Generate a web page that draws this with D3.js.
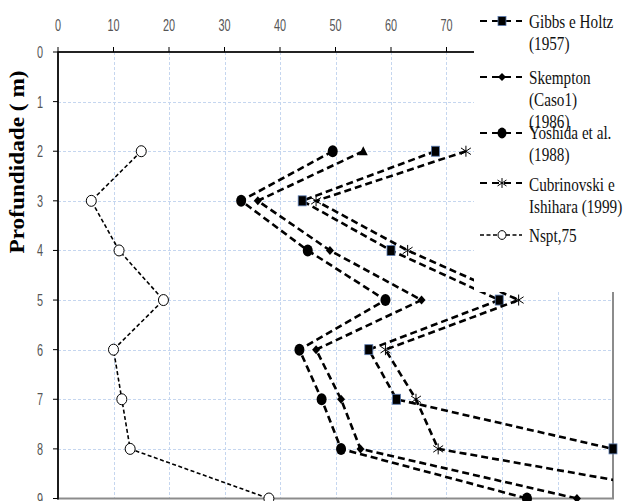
<!DOCTYPE html>
<html><head><meta charset="utf-8">
<script src="https://cdn.jsdelivr.net/npm/d3@7"></script>
<style>body{margin:0;background:#fff}svg{display:block}</style>
</head><body>
<script>
// Depths (m) and the values of each method at those depths
const depths      = [2, 3, 4, 5, 6, 7, 8, 9];
const gibbsHoltz  = [68, 44, 60, 79.5, 56, 61, 100, 113];
const skempton    = [55, 36, 49, 65.5, 46.5, 51, 54.5, 93.5];
const yoshida     = [49.5, 33, 45, 59, 43.5, 47.5, 51, 84.5];
const cubrinovski = [73.5, 46.5, 63, 83, 59, 64.5, 68.5, 119];
const nspt75      = [15, 6, 11, 19, 10, 11.5, 13, 38];

const xTicks = [0, 10, 20, 30, 40, 50, 60, 70, 80, 90, 100];
const yTicks = [0, 1, 2, 3, 4, 5, 6, 7, 8, 9];
const yTitle = "Profundidade ( m)";

const legendLabels = [
  ["Gibbs e Holtz", "(1957)"],
  ["Skempton", "(Caso1)", "(1986)"],
  ["Yoshida et al.", "(1988)"],
  ["Cubrinovski e", "Ishihara (1999)"],
  ["Nspt,75"]
];

const W = 625, H = 501;
const plot = {left: 58, right: 613, top: 52, bottom: 498.5};
const legendBox = {x: 474, height: 292};

const svg = d3.select("body").append("svg").attr("width", W).attr("height", H);

const x = d3.scaleLinear().domain([0, 100]).range([plot.left, plot.right]);
const y = d3.scaleLinear().domain([0, 9]).range([plot.top, plot.bottom]);

// grid
const grid = svg.append("g").attr("stroke", "#c5d6ef").attr("stroke-width", 1)
  .attr("stroke-dasharray", "3,2");
grid.selectAll("line.v").data(xTicks.filter(d => d > 0 && d < 100)).join("line")
  .attr("x1", d => Math.round(x(d)) + 0.5).attr("x2", d => Math.round(x(d)) + 0.5)
  .attr("y1", plot.top).attr("y2", plot.bottom);
grid.selectAll("line.h").data(yTicks.filter(d => d > 0 && d < 9)).join("line")
  .attr("y1", d => Math.round(y(d)) + 0.5).attr("y2", d => Math.round(y(d)) + 0.5)
  .attr("x1", plot.left).attr("x2", plot.right);

// plot frame
svg.append("rect").attr("x", plot.left).attr("y", plot.top)
  .attr("width", plot.right - plot.left).attr("height", plot.bottom - plot.top)
  .attr("fill", "none").attr("stroke", "#8c8c8c").attr("stroke-width", 2);

svg.append("clipPath").attr("id", "clip").append("rect")
  .attr("x", plot.left).attr("y", plot.top)
  .attr("width", plot.right - plot.left).attr("height", plot.bottom - plot.top);

// marker painters
function square(g, cx, cy, s) {
  g.append("rect").attr("x", cx - 4).attr("y", cy - 5 * s).attr("width", 8).attr("height", 10 * s)
    .attr("fill", "#000").attr("stroke", "#5b7bb0").attr("stroke-width", 0.8);
}
function diamond(g, cx, cy, s) {
  g.append("path").attr("d", `M${cx},${cy - 4.5 * s}L${cx + 4},${cy}L${cx},${cy + 4.5 * s}L${cx - 4},${cy}Z`)
    .attr("fill", "#000");
}
function triangle(g, cx, cy) {
  g.append("path").attr("d", `M${cx},${cy - 5}L${cx + 4.5},${cy + 4}L${cx - 4.5},${cy + 4}Z`)
    .attr("fill", "#000");
}
function dot(g, cx, cy, s) {
  g.append("ellipse").attr("cx", cx).attr("cy", cy).attr("rx", 5 * s).attr("ry", 6 * s).attr("fill", "#000");
}
function star(g, cx, cy, s) {
  const r = 5.5 * s;
  g.append("path").attr("d",
    `M${cx},${cy - r}L${cx},${cy + r}M${cx - r * 0.9},${cy - r * 0.6}L${cx + r * 0.9},${cy + r * 0.6}M${cx - r * 0.9},${cy + r * 0.6}L${cx + r * 0.9},${cy - r * 0.6}`)
    .attr("stroke", "#000").attr("stroke-width", 1).attr("fill", "none");
}
function ring(g, cx, cy, s) {
  g.append("ellipse").attr("cx", cx).attr("cy", cy).attr("rx", 5 * s).attr("ry", 5.5 * s)
    .attr("fill", "#fff").attr("stroke", "#000").attr("stroke-width", 1);
}

const series = [
  {vals: gibbsHoltz, mark: square, width: 2.6, dash: "7,4"},
  {vals: skempton, mark: diamond, width: 2.6, dash: "7,4"},
  {vals: yoshida, mark: dot, width: 2.6, dash: "7,4"},
  {vals: cubrinovski, mark: star, width: 2.6, dash: "7,4"},
  {vals: nspt75, mark: ring, width: 1.6, dash: "4,2.5"}
];

const line = d3.line().x(d => x(d[0])).y(d => y(d[1]));

series.forEach((s, si) => {
  const pts = s.vals.map((v, i) => [v, depths[i]]);
  svg.append("path").datum(pts).attr("clip-path", "url(#clip)")
    .attr("d", line).attr("fill", "none").attr("stroke", "#000")
    .attr("stroke-width", s.width).attr("stroke-dasharray", s.dash);
  const mg = svg.append("g");
  pts.forEach(([v, dpt], i) => {
    if (v > 100) return;
    // the 2 m point of the Skempton series carries a triangle marker
    if (si === 1 && dpt === 2) triangle(mg, x(v), y(dpt));
    else s.mark(mg, x(v), y(dpt), 1);
  });
});

// axes
svg.append("line").attr("x1", plot.left).attr("x2", plot.right)
  .attr("y1", plot.top).attr("y2", plot.top).attr("stroke", "#000").attr("stroke-width", 1.6);
svg.append("line").attr("x1", plot.left).attr("x2", plot.left)
  .attr("y1", plot.top).attr("y2", plot.bottom + 1).attr("stroke", "#000").attr("stroke-width", 1.6);

svg.append("g").selectAll("line").data(xTicks).join("line")
  .attr("x1", d => x(d)).attr("x2", d => x(d)).attr("y1", plot.top - 5).attr("y2", plot.top)
  .attr("stroke", "#000").attr("stroke-width", 1);
svg.append("g").selectAll("line").data(yTicks).join("line")
  .attr("y1", d => y(d)).attr("y2", d => y(d)).attr("x1", plot.left - 5).attr("x2", plot.left)
  .attr("stroke", "#000").attr("stroke-width", 1);

// top labels only where the legend panel leaves room
svg.append("g").selectAll("text").data(xTicks.filter(d => x(d) < legendBox.x)).join("text")
  .attr("transform", d => `translate(${x(d)},31) scale(0.68,1)`)
  .attr("text-anchor", "middle").attr("font-family", "Liberation Sans, Arial, sans-serif")
  .attr("font-size", 16).attr("fill", "#555").text(d => d);
svg.append("g").selectAll("text").data(yTicks).join("text")
  .attr("transform", d => `translate(40,${y(d) + 6}) scale(0.68,1)`)
  .attr("text-anchor", "middle").attr("font-family", "Liberation Sans, Arial, sans-serif")
  .attr("font-size", 16).attr("fill", "#555").text(d => d);

svg.append("text").attr("transform", "translate(24,162) rotate(-90)")
  .attr("text-anchor", "middle").attr("font-family", "Liberation Serif, Times New Roman, serif")
  .attr("font-weight", "bold").attr("font-size", 20).attr("fill", "#000")
  .attr("textLength", 183).attr("lengthAdjust", "spacingAndGlyphs").text(yTitle);

// legend
svg.append("rect").attr("x", legendBox.x).attr("y", 0).attr("width", W - legendBox.x)
  .attr("height", legendBox.height).attr("fill", "#fff");
const lg = svg.append("g");
const legendMarkY = [21, 77, 133, 183, 235];
const legendBase = [[28, 50], [84, 106, 128], [139, 161], [191, 213], [242]];
series.forEach((s, i) => {
  const my = legendMarkY[i];
  lg.append("line").attr("x1", 480).attr("x2", 522).attr("y1", my).attr("y2", my)
    .attr("stroke", "#000").attr("stroke-width", i === 4 ? 1.4 : 2.2)
    .attr("stroke-dasharray", i === 4 ? "4,2.5" : "7,5");
  s.mark(lg, 502, my, i === 4 ? 0.8 : 0.9);
  legendLabels[i].forEach((t, k) => {
    lg.append("text").attr("transform", `translate(529,${legendBase[i][k]}) scale(0.8,1)`)
      .attr("font-family", "Liberation Serif, Times New Roman, serif").attr("font-size", 19)
      .attr("fill", "#111").text(t);
  });
});
</script>
</body></html>
